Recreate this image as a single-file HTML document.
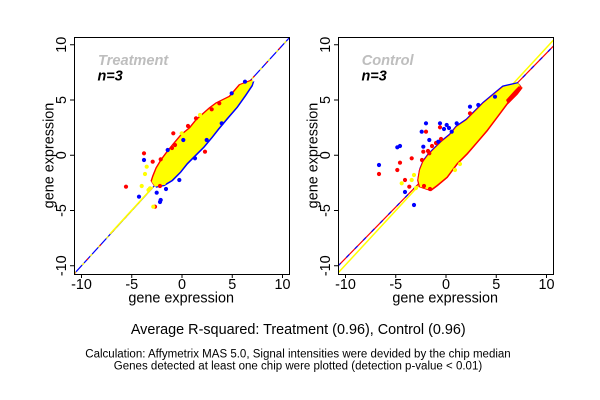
<!DOCTYPE html>
<html>
<head>
<meta charset="utf-8">
<style>
html,body{margin:0;padding:0;background:#fff;}
svg{display:block;}
text{font-family:"Liberation Sans",Arial,sans-serif;}
</style>
</head>
<body>
<svg width="600" height="400" viewBox="0 0 600 400" xmlns="http://www.w3.org/2000/svg">
<rect x="0" y="0" width="600" height="400" fill="#fff"/>
<defs>
<clipPath id="cl"><rect x="74.5" y="37.5" width="215" height="237"/></clipPath>
<clipPath id="cr"><rect x="338.5" y="37.5" width="215" height="237"/></clipPath>
<polygon id="bl" points="253.3,80 240,85 230,96.7 216.7,103.3 210,108.3 196.7,120 190,128.3 181.7,135 173.3,145 166.7,153.3 161.7,160 156.7,168.3 153.3,176.7 151.7,181.7 155,186.7 163.3,185 171.7,180 180,171.7 186.7,163.3 196.7,153.3 203.3,146.7 211.7,136.7 218.3,128.3 226.7,118.3 236.7,106.7 245,95 251.7,85"/>
<polygon id="br" points="518.3,83.3 503.3,86.7 493.3,95 483.3,103.3 476.7,110 466.7,120 456.7,126.7 450,135 441.7,141.7 435,148.3 428.3,155 423.3,161.7 420,170 418.3,180 420,186.7 430,190 436.7,185 446.7,176.7 456.7,163.3 466.7,153.3 476.7,141.7 486.7,130 496.7,116.7 506.7,103.3 516.7,93.3 521.7,86.7"/>
</defs>

<!-- LEFT PANEL -->
<g clip-path="url(#cl)">
  <line x1="74" y1="274" x2="290" y2="37" stroke="#0000ff" stroke-width="1.2"/>
  <line x1="74" y1="274" x2="290" y2="37" stroke="#ffff00" stroke-width="1.2" stroke-dasharray="3 9"/>
  <line x1="74" y1="274" x2="290" y2="37" stroke="#ff0000" stroke-width="1.2" stroke-dasharray="2 17"/>
  <line x1="110" y1="234" x2="153" y2="187" stroke="#ffff00" stroke-width="1.6"/>
  <use href="#bl" fill="#0000ff" transform="translate(1.1,1.1)"/>
  <use href="#bl" fill="#ff0000" transform="translate(-1.2,-0.8)"/>
  <use href="#bl" fill="#ffff00"/>
  <g fill="#ff0000">
    <circle cx="144" cy="153.3" r="2.1"/><circle cx="152.7" cy="161.7" r="2.1"/>
    <circle cx="173.3" cy="133.3" r="2.1"/><circle cx="175" cy="145" r="2.1"/>
    <circle cx="196" cy="118.3" r="2.1"/><circle cx="205" cy="151.7" r="2.1"/>
    <circle cx="219.3" cy="103.3" r="2.1"/><circle cx="211.7" cy="109.3" r="2.1"/>
    <circle cx="160.7" cy="159.3" r="2.1"/><circle cx="126" cy="186.7" r="2.1"/>
    <circle cx="155" cy="206.7" r="2.1"/><circle cx="172" cy="148" r="2.1"/>
    <circle cx="160" cy="186" r="2.1"/><circle cx="188" cy="126" r="2.1"/>
  </g>
  <g fill="#0000ff">
    <circle cx="144" cy="160" r="2.1"/><circle cx="167.7" cy="150" r="2.1"/>
    <circle cx="183.3" cy="140" r="2.1"/><circle cx="139" cy="196.7" r="2.1"/>
    <circle cx="160.7" cy="200" r="2.1"/><circle cx="160" cy="202" r="2.1"/>
    <circle cx="156.7" cy="192.7" r="2.1"/><circle cx="179.3" cy="180" r="2.1"/>
    <circle cx="245" cy="81.7" r="2.1"/><circle cx="231.7" cy="93.3" r="2.1"/>
    <circle cx="221.7" cy="123.3" r="2.1"/><circle cx="206.7" cy="140" r="2.1"/>
    <circle cx="195" cy="158.3" r="2.1"/><circle cx="166" cy="189" r="2.1"/>
  </g>
  <g fill="#ffff00">
    <circle cx="146.7" cy="166.7" r="2.1"/><circle cx="145" cy="174" r="2.1"/>
    <circle cx="141.7" cy="186" r="2.1"/><circle cx="153.3" cy="206.7" r="2.1"/>
    <circle cx="200" cy="115" r="2.1"/><circle cx="181.7" cy="133.3" r="2.1"/>
    <circle cx="150" cy="188.3" r="2.1"/><circle cx="148.5" cy="190" r="2.1"/>
    <circle cx="164" cy="183" r="2.1"/><circle cx="157" cy="178" r="2.1"/>
  </g>
</g>
<rect x="74.5" y="37.5" width="215" height="237" fill="none" stroke="#000" stroke-width="1"/>
<g stroke="#000" stroke-width="1">
  <line x1="70" y1="44.75" x2="74" y2="44.75"/><line x1="70" y1="100" x2="74" y2="100"/>
  <line x1="70" y1="155.25" x2="74" y2="155.25"/><line x1="70" y1="210.5" x2="74" y2="210.5"/>
  <line x1="70" y1="265.75" x2="74" y2="265.75"/>
  <line x1="81.5" y1="275" x2="81.5" y2="278"/><line x1="131.75" y1="275" x2="131.75" y2="278"/>
  <line x1="182" y1="275" x2="182" y2="278"/><line x1="232.25" y1="275" x2="232.25" y2="278"/>
  <line x1="282.5" y1="275" x2="282.5" y2="278"/>
</g>
<g font-size="14.4" text-anchor="middle" fill="#000">
  <text x="66" y="44.75" transform="rotate(-90 66 44.75)">10</text>
  <text x="66" y="100" transform="rotate(-90 66 100)">5</text>
  <text x="66" y="155.25" transform="rotate(-90 66 155.25)">0</text>
  <text x="66" y="210.5" transform="rotate(-90 66 210.5)">-5</text>
  <text x="66" y="265.75" transform="rotate(-90 66 265.75)">-10</text>
  <text x="81.5" y="289">-10</text>
  <text x="131.75" y="289">-5</text>
  <text x="182" y="289">0</text>
  <text x="232.25" y="289">5</text>
  <text x="282.5" y="289">10</text>
  <text x="181.2" y="302.7">gene expression</text>
  <text x="53.5" y="155.5" transform="rotate(-90 53.5 155.5)">gene expression</text>
</g>
<text x="98" y="65" font-size="14.6" font-weight="bold" font-style="italic" fill="#bebebe">Treatment</text>
<text x="97.5" y="80.7" font-size="14.4" font-weight="bold" font-style="italic" fill="#000">n=3</text>

<!-- RIGHT PANEL -->
<g clip-path="url(#cr)">
  <line x1="338" y1="273" x2="554" y2="39.5" stroke="#ffff00" stroke-width="1.5"/>
  <line x1="338" y1="266" x2="554" y2="45.5" stroke="#ff0000" stroke-width="1.2"/>
  <line x1="338" y1="266" x2="554" y2="45.5" stroke="#0000ff" stroke-width="1.2" stroke-dasharray="4 8"/>
  <use href="#br" fill="#0000ff" transform="translate(-0.8,-1.2)"/>
  <use href="#br" fill="#ff0000" transform="translate(-1.2,0.4)"/>
  <use href="#br" fill="#ff0000" transform="translate(1,1.2)"/>
  <use href="#br" fill="#ffff00"/>
  <polygon fill="#ff0000" points="507,101 512,95 517,90 520,86 518,83.5 521.5,86.5 517,94 509,103"/>
  <polygon fill="#ff0000" points="506,100 515,90 519,86 521,90 513,98 508,104"/>
  <g fill="#ff0000">
    <circle cx="432" cy="146" r="2.1"/><circle cx="436" cy="143" r="2.1"/>
    <circle cx="441" cy="139" r="2.1"/><circle cx="428" cy="151" r="2.1"/>
    <circle cx="424" cy="186" r="2.1"/><circle cx="430" cy="189" r="2.1"/>
  </g>
  <g fill="#0000ff">
    <circle cx="379" cy="165" r="2.1"/><circle cx="400" cy="146" r="2.1"/>
    <circle cx="397.3" cy="147.3" r="2.1"/><circle cx="426" cy="123.3" r="2.1"/>
    <circle cx="421.7" cy="131.7" r="2.1"/><circle cx="429.3" cy="140" r="2.1"/>
    <circle cx="423.3" cy="146.7" r="2.1"/><circle cx="440" cy="123.3" r="2.1"/>
    <circle cx="446.7" cy="125" r="2.1"/><circle cx="456.7" cy="123.3" r="2.1"/>
    <circle cx="470" cy="106.7" r="2.1"/><circle cx="478.3" cy="105" r="2.1"/>
    <circle cx="451.7" cy="131.7" r="2.1"/><circle cx="495" cy="96.7" r="2.1"/>
    <circle cx="414" cy="205" r="2.1"/><circle cx="438.3" cy="141.7" r="2.1"/>
    <circle cx="405" cy="192" r="2.1"/><circle cx="449" cy="128" r="2.1"/>
    <circle cx="444" cy="129" r="2.1"/>
  </g>
  <g fill="#ff0000">
    <circle cx="379" cy="174" r="2.1"/><circle cx="400" cy="162.7" r="2.1"/>
    <circle cx="397.3" cy="170" r="2.1"/><circle cx="411.7" cy="158.3" r="2.1"/>
    <circle cx="426" cy="131.7" r="2.1"/><circle cx="440" cy="127.3" r="2.1"/>
    <circle cx="405" cy="180" r="2.1"/><circle cx="409.3" cy="186.7" r="2.1"/>
    <circle cx="423.3" cy="151.7" r="2.1"/><circle cx="470" cy="113.3" r="2.1"/>
    <circle cx="429.3" cy="153.3" r="2.1"/><circle cx="422" cy="160" r="2.1"/>
  </g>
  <g fill="#ffff00">
    <circle cx="401.7" cy="183.3" r="2.1"/><circle cx="455" cy="170" r="2.1"/>
    <circle cx="411.7" cy="180" r="2.1"/><circle cx="416" cy="188" r="2.1"/>
    <circle cx="414" cy="175" r="2.1"/><circle cx="460" cy="164" r="2.1"/>
  </g>
</g>
<rect x="338.5" y="37.5" width="215" height="237" fill="none" stroke="#000" stroke-width="1"/>
<g stroke="#000" stroke-width="1">
  <line x1="334" y1="44.75" x2="338" y2="44.75"/><line x1="334" y1="100" x2="338" y2="100"/>
  <line x1="334" y1="155.25" x2="338" y2="155.25"/><line x1="334" y1="210.5" x2="338" y2="210.5"/>
  <line x1="334" y1="265.75" x2="338" y2="265.75"/>
  <line x1="345.5" y1="275" x2="345.5" y2="278"/><line x1="395.75" y1="275" x2="395.75" y2="278"/>
  <line x1="446" y1="275" x2="446" y2="278"/><line x1="496.25" y1="275" x2="496.25" y2="278"/>
  <line x1="546.5" y1="275" x2="546.5" y2="278"/>
</g>
<g font-size="14.4" text-anchor="middle" fill="#000">
  <text x="330" y="44.75" transform="rotate(-90 330 44.75)">10</text>
  <text x="330" y="100" transform="rotate(-90 330 100)">5</text>
  <text x="330" y="155.25" transform="rotate(-90 330 155.25)">0</text>
  <text x="330" y="210.5" transform="rotate(-90 330 210.5)">-5</text>
  <text x="330" y="265.75" transform="rotate(-90 330 265.75)">-10</text>
  <text x="345.5" y="289">-10</text>
  <text x="395.75" y="289">-5</text>
  <text x="446" y="289">0</text>
  <text x="496.25" y="289">5</text>
  <text x="546.5" y="289">10</text>
  <text x="445.2" y="302.7">gene expression</text>
  <text x="317.5" y="155.5" transform="rotate(-90 317.5 155.5)">gene expression</text>
</g>
<text x="361.7" y="65" font-size="14.6" font-weight="bold" font-style="italic" fill="#bebebe">Control</text>
<text x="361.5" y="80.7" font-size="14.4" font-weight="bold" font-style="italic" fill="#000">n=3</text>

<g text-anchor="middle" fill="#000">
  <text x="298.3" y="334" font-size="14.4">Average R-squared: Treatment (0.96), Control (0.96)</text>
  <text x="298" y="357.3" font-size="11.52">Calculation: Affymetrix MAS 5.0, Signal intensities were devided by the chip median</text>
  <text x="298" y="369.3" font-size="11.52">Genes detected at least one chip were plotted (detection p-value &lt; 0.01)</text>
</g>
</svg>
</body>
</html>
